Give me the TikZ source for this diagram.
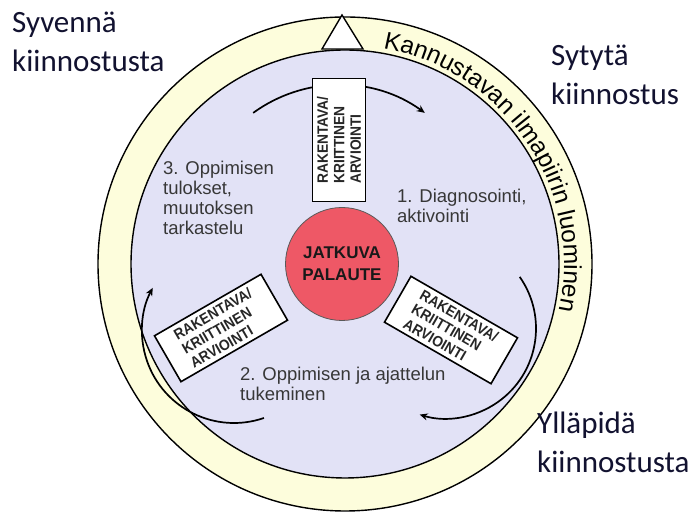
\documentclass[tikz,border=0pt]{standalone}
\usepackage{fontspec}
\setmainfont{Liberation Sans}
\newfontfamily\cornerfont{Carlito}
\newfontfamily\boxfont{Liberation Sans}[FakeStretch=0.92]
\usetikzlibrary{decorations.text,arrows.meta}
\definecolor{ringyellow}{RGB}{253,253,220}
\definecolor{lavender}{RGB}{226,226,246}
\definecolor{feedbackred}{RGB}{238,88,102}
\definecolor{labelgray}{RGB}{55,55,55}
\definecolor{cornerink}{RGB}{18,18,48}
\newcommand\ringfont{\fontsize{24.5}{24.5}\selectfont}
\begin{document}
\begin{tikzpicture}[x=1pt,y=1pt,
  ring/.style={draw=black, line width=1.4pt},
  evalbox/.style={draw=black, line width=1.6pt, fill=white, minimum width=123pt,
    minimum height=53pt, inner sep=0pt, align=left,
    font=\boxfont\fontsize{15}{16.5}\selectfont\bfseries, text=black!85},
  phase/.style={font=\fontsize{18.5}{20}\selectfont, text=labelgray, align=left,
    anchor=base west, inner sep=0pt},
  corner/.style={font=\cornerfont\fontsize{31}{39}\selectfont, text=cornerink,
    align=left, anchor=base west, inner sep=0pt},
  looparrow/.style={line width=1.7pt, -{Stealth[length=8pt,width=7pt]}}
]
\useasboundingbox (0,0) rectangle (694,513);
\fill[white] (0,0) rectangle (694,513);
\coordinate (C) at (345,249);

% outer ring and inner disc
\draw[ring, fill=ringyellow] (C) circle[radius=247pt];
\draw[ring, fill=lavender] (C) circle[radius=214pt];
\draw[ring, fill=white, line join=miter] (322,464) -- (342,498) -- (363,464) -- cycle;

% text running along the ring
\path[decorate, decoration={text along path, text align=left,
    text={|\ringfont|Kannustavan ilmapiirin luominen}}]
  ([shift={(80:219pt)}]C) arc[start angle=80, end angle=-25, radius=219pt];

% cycle arrows
\coordinate (topc) at (339,282);
\coordinate (rightc) at (446,184.5);
\coordinate (leftc) at (234,182);
\draw[looparrow] ([shift={(126:146pt)}]topc) arc[start angle=126, end angle=54, radius=146pt];
\draw[looparrow] ([shift={(35:90pt)}]rightc) arc[start angle=35, end angle=-107, radius=90pt];
\draw[looparrow] ([shift={(-71:92pt)}]leftc) arc[start angle=-71, end angle=-208, radius=92pt];

% evaluation boxes
\node[evalbox, rotate=90] (evaltop) at (339,373) {RAKENTAVA/\\KRIITTINEN\\ARVIOINTI};
\node[evalbox, rotate=-30] (evalright) at (451,183) {RAKENTAVA/\\KRIITTINEN\\ARVIOINTI};
\node[evalbox, rotate=30] (evalleft) at (221,185) {RAKENTAVA/\\KRIITTINEN\\ARVIOINTI};

% centre
\node[circle, draw=black!65, line width=0.8pt, fill=feedbackred, minimum size=113pt,
  align=center, font=\fontsize{17}{22}\selectfont\bfseries, text=black!90]
  (feedback) at (342,249) {JATKUVA\\PALAUTE};

% phases (anchored at the baseline of the last line)
\node[phase] (phase1) at (397,290) {1. Diagnosointi,\\aktivointi};
\node[phase] (phase2) at (240,112) {2. Oppimisen ja ajattelun\\tukeminen};
\node[phase] (phase3) at (163,278) {3. Oppimisen\\tulokset,\\muutoksen\\tarkastelu};

% corner captions
\node[corner] (deepen) at (12,441) {Syvennä\\kiinnostusta};
\node[corner] (ignite) at (551,408) {Sytytä\\kiinnostus};
\node[corner] (sustain) at (537,40) {Ylläpidä\\kiinnostusta};
\end{tikzpicture}
\end{document}
